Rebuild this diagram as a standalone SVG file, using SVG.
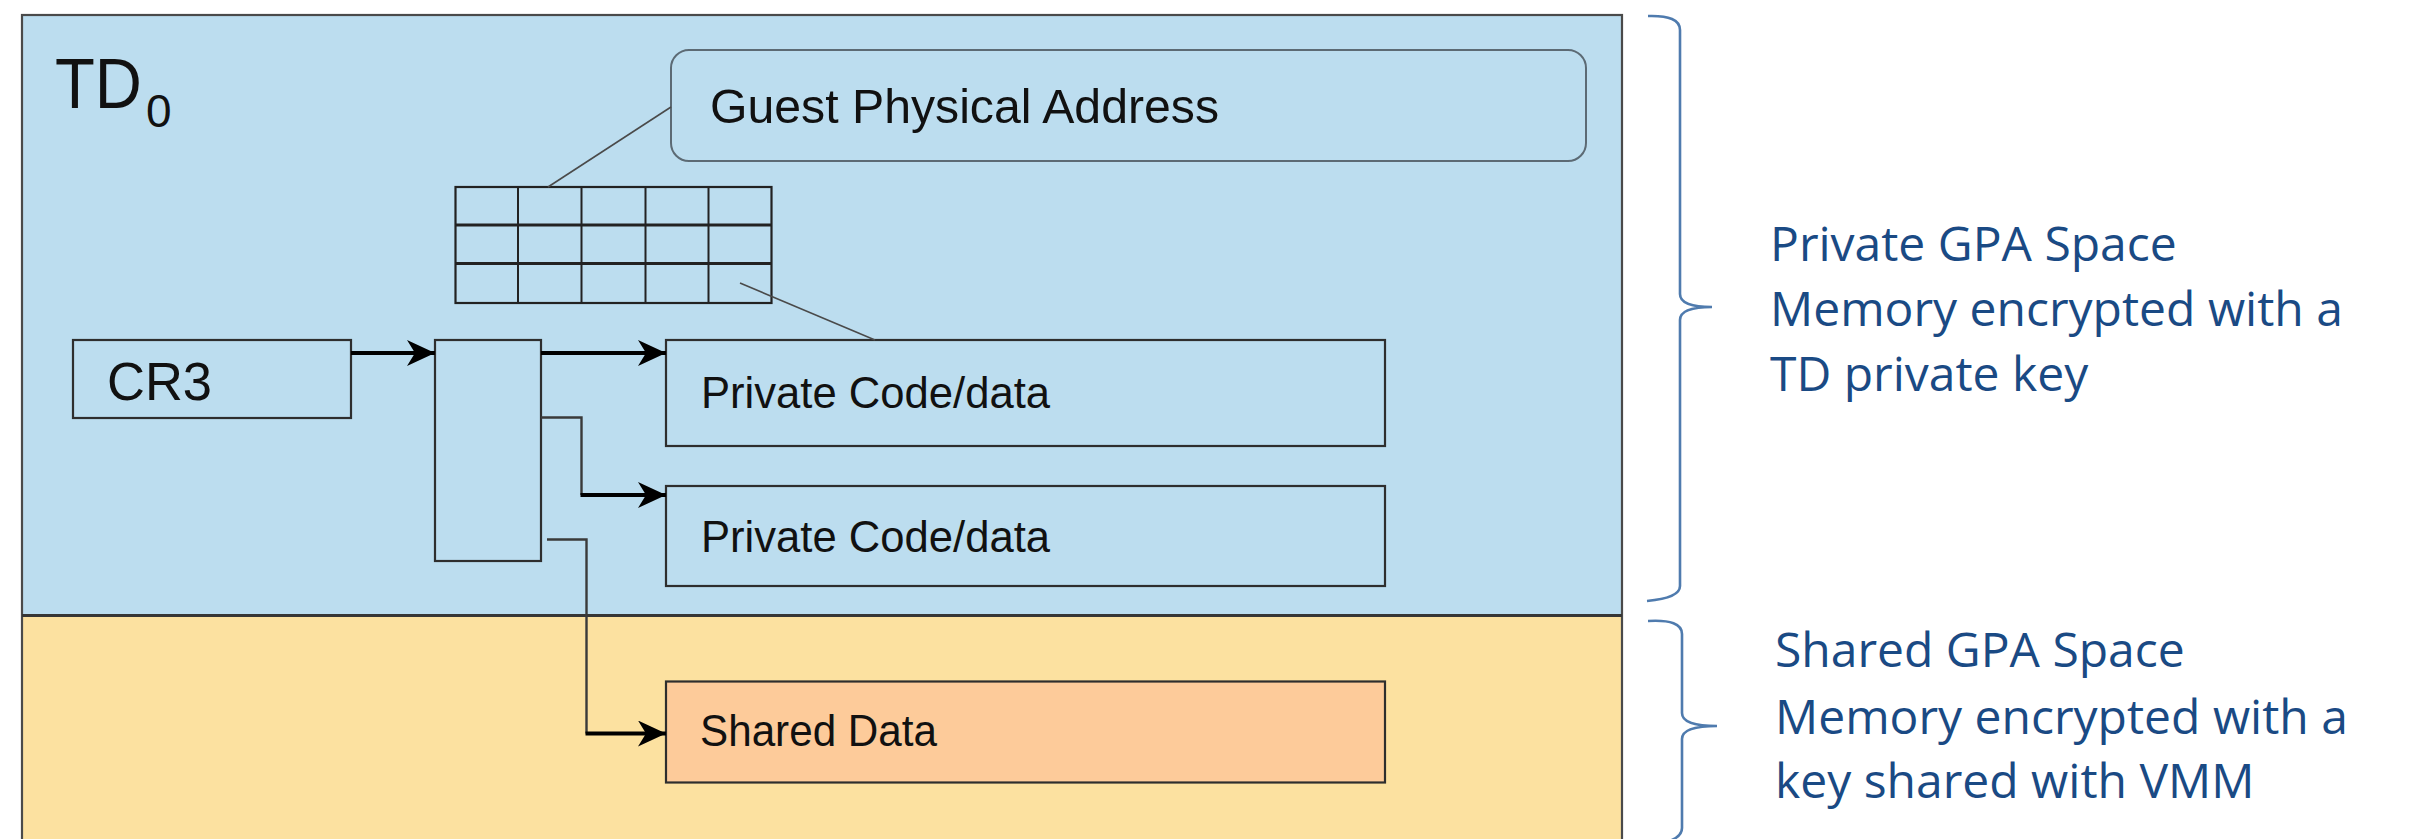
<svg xmlns="http://www.w3.org/2000/svg" width="2434" height="839" viewBox="0 0 2434 839">
  <defs>
    <style>
      .box { stroke: #2e2e2e; stroke-width: 2.2; }
      .blue { fill: #BCDDEF; }
      .lbl { font-family: "Liberation Sans", Arial, sans-serif; fill: #111111; }
      .side { font-family: "Open Sans", "Noto Sans", sans-serif; font-size: 48px; fill: #1A4A84; }
      .callout { stroke: #4a4a4a; stroke-width: 1.6; fill: none; }
      .thin { stroke: #3a3a3a; stroke-width: 2.4; fill: none; }
      .thick { stroke: #000000; stroke-width: 4.2; fill: none; }
      .brace { stroke: #4F7BAE; stroke-width: 2.6; fill: none; }
      .grid { stroke: #222222; fill: none; }
    </style>
    <marker id="arrow" markerUnits="userSpaceOnUse" markerWidth="30" markerHeight="28" refX="28" refY="13" orient="auto">
      <path d="M0,0 L28,13 L0,26 L8,13 Z" fill="#000000"/>
    </marker>
  </defs>

  <rect width="2434" height="839" fill="#ffffff"/>

  <!-- Trust domain: private (blue) and shared (yellow) halves -->
  <g id="td-region">
    <rect id="private-space" x="22" y="15" width="1600" height="601" fill="#BCDDEF"/>
    <rect id="shared-space" x="22" y="616" width="1600" height="240" fill="#FCE1A0"/>
    <rect x="22" y="15" width="1600" height="841" fill="none" stroke="#4a4a4a" stroke-width="2.2"/>
    <line x1="22" y1="615.5" x2="1622" y2="615.5" stroke="#363636" stroke-width="3"/>
    <text class="lbl" x="55" y="108" font-size="71" textLength="87" lengthAdjust="spacingAndGlyphs">TD</text>
    <text class="lbl" x="146" y="127" font-size="46">0</text>
  </g>

  <g id="gpa">
    <rect x="671" y="50" width="915" height="111" rx="18" ry="18" class="blue" stroke="#5c6a74" stroke-width="2"/>
    <text class="lbl" x="710" y="123" font-size="48" textLength="509" lengthAdjust="spacingAndGlyphs">Guest Physical Address</text>
  </g>

  <!-- Page table grid: 5 columns x 3 rows -->
  <g id="page-table">
    <rect x="455.5" y="187" width="316" height="116" class="grid" stroke-width="2.2"/>
    <path class="grid" stroke-width="2" d="M518,187 V303 M581.5,187 V303 M645.5,187 V303 M708.5,187 V303"/>
    <path class="grid" stroke-width="3" d="M455.5,225 H771.5 M455.5,263.5 H771.5"/>
  </g>

  <g id="cr3">
    <rect x="73" y="340" width="278" height="78" class="box blue"/>
    <text class="lbl" x="107" y="400" font-size="53" textLength="105" lengthAdjust="spacingAndGlyphs">CR3</text>
  </g>

  <g id="pt-entry">
    <rect x="435" y="340" width="106" height="221" class="box blue"/>
  </g>

  <g id="private-1">
    <rect x="666" y="340" width="719" height="106" class="box blue"/>
    <text class="lbl" x="701" y="408" font-size="44" textLength="349" lengthAdjust="spacingAndGlyphs">Private Code/data</text>
  </g>

  <g id="private-2">
    <rect x="666" y="486" width="719" height="100" class="box blue"/>
    <text class="lbl" x="701" y="552" font-size="44" textLength="349" lengthAdjust="spacingAndGlyphs">Private Code/data</text>
  </g>

  <g id="shared-data">
    <rect x="666" y="681.5" width="719" height="101" class="box" fill="#FDCB9A"/>
    <text class="lbl" x="700" y="746" font-size="44" textLength="237" lengthAdjust="spacingAndGlyphs">Shared Data</text>
  </g>

  <g id="connectors">
    <line class="callout" x1="671" y1="107" x2="548" y2="187"/>
    <line class="callout" x1="740" y1="283" x2="875" y2="340"/>
    <path class="thick" d="M351,353 H435" marker-end="url(#arrow)"/>
    <path class="thick" d="M541,353 H666" marker-end="url(#arrow)"/>
    <path class="thin" d="M541,417.5 H581.5 V495"/>
    <path class="thick" d="M580.5,495 H666" marker-end="url(#arrow)"/>
    <path class="thin" d="M547,539.5 H586.5 V733.5"/>
    <path class="thick" d="M585.5,733.5 H666" marker-end="url(#arrow)"/>
  </g>

  <!-- Braces and captions on the right -->
  <g id="private-caption">
    <path class="brace" d="M1648,16 Q1680,15 1680,30 L1680,294 Q1680,307 1712,307 Q1680,307 1680,320 L1680,586 Q1680,598 1647,601"/>
    <text class="side" x="1770" y="261">Private GPA Space</text>
    <text class="side" x="1770" y="326">Memory encrypted with a</text>
    <text class="side" x="1770" y="391">TD private key</text>
  </g>

  <g id="shared-caption">
    <path class="brace" d="M1648,621 Q1682,619 1682,634 L1682,713 Q1682,726 1717,726 Q1682,726 1682,739 L1682,828 Q1682,842 1648,845"/>
    <text class="side" x="1775" y="667">Shared GPA Space</text>
    <text class="side" x="1775" y="734">Memory encrypted with a</text>
    <text class="side" x="1775" y="798">key shared with VMM</text>
  </g>
</svg>
